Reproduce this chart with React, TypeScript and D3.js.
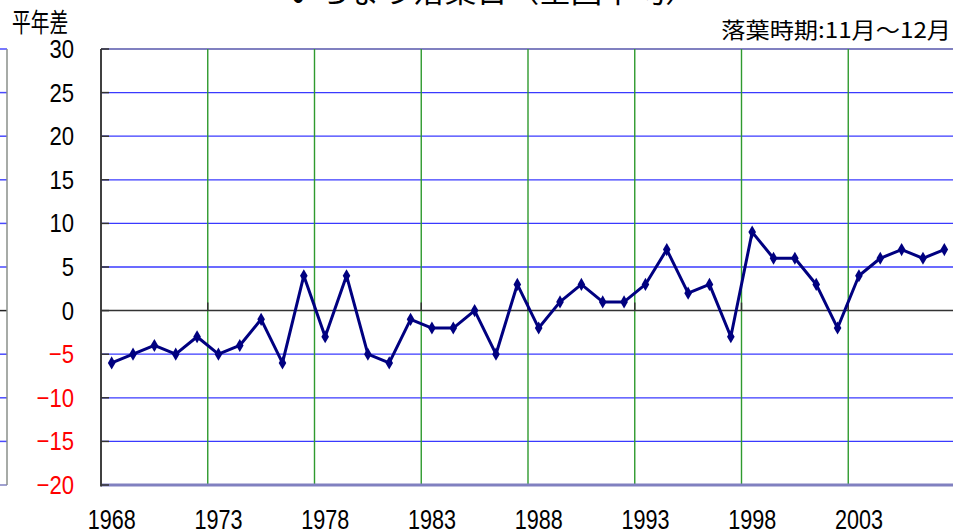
import React from "react";
import * as d3 from "d3";

const years: number[] = [
  1968, 1969, 1970, 1971, 1972, 1973, 1974, 1975, 1976, 1977,
  1978, 1979, 1980, 1981, 1982, 1983, 1984, 1985, 1986, 1987,
  1988, 1989, 1990, 1991, 1992, 1993, 1994, 1995, 1996, 1997,
  1998, 1999, 2000, 2001, 2002, 2003, 2004, 2005, 2006, 2007,
];
const anomaly: number[] = [
  -6, -5, -4, -5, -3, -5, -4, -1, -6, 4,
  -3, 4, -5, -6, -1, -2, -2, 0, -5, 3,
  -2, 1, 3, 1, 1, 3, 7, 2, 3, -3,
  9, 6, 6, 3, -2, 4, 6, 7, 6, 7,
];
const yTicks: number[] = [-20, -15, -10, -5, 0, 5, 10, 15, 20, 25, 30];
const xLabelYears: number[] = [1968, 1973, 1978, 1983, 1988, 1993, 1998, 2003];
const titleText = "いちょう落葉日（全国平均）";
const yAxisTitle = "平年差";
const subTitle = "落葉時期:11月～12月";

const W = 953;
const H = 532;
const L = 101;
const R = 955;
const T = 49;
const B = 485;

export default function App() {
  const x = d3.scaleBand<number>().domain(years).range([L, R]).padding(0);
  const y = d3.scaleLinear().domain([-20, 30]).range([B, T]);
  const cx = (yr: number) => (x(yr) as number) + x.bandwidth() / 2;
  const line = d3
    .line<number>()
    .x((_, i) => cx(years[i]))
    .y((v) => y(v));
  const diamond = d3.symbol().type(d3.symbolDiamond).size(50)();
  const numFont = "'Liberation Sans', Arial, sans-serif";
  const jpFont = "'Noto Sans CJK JP', sans-serif";

  return (
    <svg
      width={W}
      height={H}
      style={{ position: "absolute", left: 0, top: 0, background: "#fff" }}
    >
      {/* cut-off neighbour panel on the left */}
      {yTicks.map((t) => (
        <line
          key={"lp" + t}
          x1={0}
          x2={7}
          y1={y(t)}
          y2={y(t)}
          stroke={t === 0 ? "#222" : t === -20 ? "#8080c0" : "#4a4aff"}
          strokeWidth={1.5}
        />
      ))}
      <line x1={7} x2={7} y1={T} y2={B} stroke="#8a8f8a" strokeWidth={1.5} />

      {/* title (cut off at top) */}
      <text
        transform="translate(492,2) scale(1.05,1)"
        textAnchor="middle"
        fontFamily={jpFont}
        fontSize={30}
        fill="#000"
      >
        {titleText}
      </text>
      <text
        transform="translate(12,32) scale(0.72,1)"
        fontFamily={jpFont}
        fontSize={26}
        fill="#000"
      >
        {yAxisTitle}
      </text>
      <text
        transform="translate(951,38) scale(1.1,1)"
        textAnchor="end"
        fontFamily={jpFont}
        fontSize={22}
        fill="#000"
      >
        {subTitle}
      </text>

      {/* horizontal gridlines */}
      {yTicks
        .filter((t) => t !== 0 && t !== -20 && t !== 30)
        .map((t) => (
          <line
            key={"g" + t}
            x1={L}
            x2={W}
            y1={y(t)}
            y2={y(t)}
            stroke="#3a3aff"
            strokeWidth={1.3}
          />
        ))}
      <line x1={L} x2={W} y1={y(30)} y2={y(30)} stroke="#8080c0" strokeWidth={2} />

      {/* vertical green gridlines every 5 years */}
      {xLabelYears.slice(1).map((yr) => (
        <line
          key={"v" + yr}
          x1={x(yr) as number}
          x2={x(yr) as number}
          y1={T}
          y2={B}
          stroke="#2e9a2e"
          strokeWidth={1.4}
        />
      ))}

      {/* zero axis with ticks */}
      <line x1={L} x2={W} y1={y(0)} y2={y(0)} stroke="#333" strokeWidth={1.5} />
      {xLabelYears.slice(1).map((yr) => (
        <line
          key={"zt" + yr}
          x1={x(yr) as number}
          x2={x(yr) as number}
          y1={y(0) - 8}
          y2={y(0)}
          stroke="#333"
          strokeWidth={1.5}
        />
      ))}

      {/* bottom border */}
      <line x1={L} x2={W} y1={B} y2={B} stroke="#8080c0" strokeWidth={3} />

      {/* left axis */}
      <line x1={L} x2={L} y1={T} y2={B + 1.5} stroke="#404040" strokeWidth={2} />
      {yTicks.map((t) => (
        <line
          key={"lt" + t}
          x1={L}
          x2={L + 8}
          y1={y(t)}
          y2={y(t)}
          stroke="#333"
          strokeWidth={1.5}
        />
      ))}

      {/* y tick labels */}
      {yTicks.map((t) => (
        <text
          key={"yl" + t}
          transform={`translate(74,${y(t) + 9}) scale(0.85,1)`}
          textAnchor="end"
          fontFamily={numFont}
          fontSize={26}
          fill={t < 0 ? "#ff0000" : "#000"}
        >
          {t < 0 ? "−" + Math.abs(t) : String(t)}
        </text>
      ))}

      {/* x tick labels */}
      {xLabelYears.map((yr) => (
        <text
          key={"xl" + yr}
          transform={`translate(${cx(yr)},529) scale(0.8,1)`}
          textAnchor="middle"
          fontFamily={numFont}
          fontSize={27}
          fill="#000"
        >
          {yr}
        </text>
      ))}

      {/* series */}
      <path
        d={line(anomaly) || ""}
        fill="none"
        stroke="#000080"
        strokeWidth={3}
        strokeLinejoin="round"
      />
      {anomaly.map((v, i) => (
        <path
          key={"m" + i}
          d={diamond || ""}
          transform={`translate(${cx(years[i])},${y(v)})`}
          fill="#000080"
        />
      ))}
    </svg>
  );
}
